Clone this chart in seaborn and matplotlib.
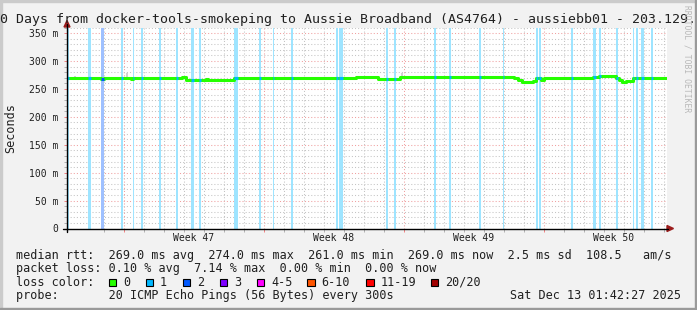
import numpy as np
import pandas as pd
import matplotlib
matplotlib.use("Agg")
import matplotlib.pyplot as plt
import seaborn as sns
from matplotlib.transforms import Affine2D
from matplotlib.patches import Rectangle, Polygon
from matplotlib.lines import Line2D

# ---------------- data ----------------
# median RTT (ms) as a step function: day offset from the window start -> value
step_days = [0.0, 1.70, 1.85, 3.20, 3.30, 5.75, 5.95, 6.95, 7.05, 8.35,
             14.45, 15.55, 16.65, 18.85, 18.95, 20.20, 20.30, 20.80, 20.90,
             22.10, 22.20, 22.35, 22.55, 22.75, 23.30, 23.45, 23.70, 23.85,
             26.30, 26.60, 27.45, 27.60, 27.75, 27.95, 28.30, 30.0]
step_ms = [269.0, 267.0, 269.0, 267.0, 269.0, 272.0, 265.5, 267.5, 265.5, 269.0,
           270.5, 268.5, 271.5, 270.5, 271.5, 270.5, 271.5, 270.5, 271.5,
           270.5, 271.5, 269.5, 266.0, 261.5, 265.0, 269.0, 265.5, 269.0,
           271.0, 273.5, 269.5, 265.5, 261.5, 265.0, 269.0, 269.0]

# packet-loss events: start day, end day, loss class index
loss_start = [0.00, 1.05, 1.70, 2.70, 3.30, 3.70, 4.60, 5.45, 6.20, 6.575,
              8.35, 9.60, 10.30, 11.20, 13.45, 13.60, 15.95, 16.35, 18.35,
              19.10, 20.60, 21.80, 23.45, 23.62, 25.20, 26.30, 26.60, 27.45,
              28.30, 28.45, 28.70, 29.20]
loss_end = [0.12, 1.20, 1.85, 2.80, 3.35, 3.80, 4.70, 5.55, 6.35, 6.675,
            8.55, 9.70, 10.35, 11.30, 13.55, 13.80, 16.05, 16.45, 18.45,
            19.20, 20.70, 21.85, 23.55, 23.72, 25.30, 26.45, 26.70, 27.55,
            28.35, 28.55, 28.85, 29.30]
loss_class = [1, 1, 2, 1, 1, 1, 1, 1, 1, 1,
              1, 1, 1, 1, 1, 1, 1, 1, 1,
              1, 1, 1, 1, 1, 1, 1, 1, 1,
              1, 1, 1, 1]

# faint smoke (rtt spread) visible above the median
smoke_start = [0.35, 2.95, 16.70]
smoke_end = [0.45, 3.05, 16.80]
smoke_top = [274.0, 279.0, 278.0]

week_bounds = [2.85, 9.85, 16.85, 23.85]
week_labels = ["Week 47", "Week 48", "Week 49", "Week 50"]
week_centers = [6.35, 13.35, 20.35, 27.35]

loss_names = ["0", "1", "2", "3", "4-5", "6-10", "11-19", "20/20"]
loss_colors = ["#26ff00", "#00b8ff", "#0059ff", "#7e00ff", "#ff00ff",
               "#ff5500", "#ff0000", "#a10000"]

title = "30 Days from docker-tools-smokeping to Aussie Broadband (AS4764) - aussiebb01 - 203.129."
line_rtt = "median rtt:  269.0 ms avg  274.0 ms max  261.0 ms min  269.0 ms now  2.5 ms sd  108.5   am/s"
line_loss = "packet loss: 0.10 % avg  7.14 % max  0.00 % min  0.00 % now"
line_probe = "probe:       20 ICMP Echo Pings (56 Bytes) every 300s"
stamp = "Sat Dec 13 01:42:27 2025"

# ---------------- style ----------------
sns.set_theme(style="white")
plt.rcParams["font.family"] = ["DejaVu Sans Mono", "DejaVu Sans"]

W, H = 697, 310
fig = plt.figure(figsize=(W / 100, H / 100), dpi=100, facecolor="#f2f2f2")
PX = Affine2D().scale(1 / W, -1 / H).translate(0, 1) + fig.transFigure

# shaded border
fig.patches.append(Rectangle((0, 0), W, 2, transform=PX, color="#cbcbcb", zorder=0))
fig.patches.append(Rectangle((0, 0), 2, H, transform=PX, color="#cbcbcb", zorder=0))
fig.patches.append(Rectangle((W - 2, 0), 2, H, transform=PX, color="#9a9a9a", zorder=0))
fig.patches.append(Rectangle((0, H - 2), W, 2, transform=PX, color="#9a9a9a", zorder=0))

ax_l, ax_r, ax_t, ax_b = 67, 667, 27.5, 228.5
ax = fig.add_axes([ax_l / W, (H - ax_b) / H, (ax_r - ax_l) / W, (ax_b - ax_t) / H])
ax.set_facecolor("white")
ax.set_xlim(0, 30)
ax.set_ylim(0, 360)
for s in ax.spines.values():
    s.set_visible(False)

# grid
ax.set_xticks(week_bounds)
ax.set_xticks(np.arange(1.85, 30, 1.0), minor=True)
ax.set_yticks(np.arange(0, 351, 50))
ax.set_yticks(np.arange(0, 361, 10), minor=True)
ax.set_yticklabels(["0"] + [f"{v} m" for v in range(50, 351, 50)])
ax.set_xticklabels([])
ax.grid(which="minor", color="#c4c4c4", linestyle=(0, (1, 2)), linewidth=0.75)
ax.grid(which="major", color="#f0a0a0", linestyle=(0, (1, 2)), linewidth=0.75)
ax.set_axisbelow(True)
ax.tick_params(axis="both", which="major", length=2, width=0.7, color="#f08080",
               labelsize=7, labelcolor="#202020", pad=4)
ax.tick_params(axis="both", which="minor", length=2, width=0.7, color="#b0b0b0")
ax.tick_params(axis="x", which="both", bottom=True, labelbottom=False)
ax.tick_params(axis="y", which="both", left=True)

def blend(c, a=0.38):
    r, g, b = matplotlib.colors.to_rgb(c)
    return (1 - a + a * r, 1 - a + a * g, 1 - a + a * b)

# loss bars
for s0, s1, k in zip(loss_start, loss_end, loss_class):
    ax.axvspan(s0, s1, color=blend(loss_colors[k]), lw=0, zorder=1)

# smoke
for s0, s1, top in zip(smoke_start, smoke_end, smoke_top):
    v = step_ms[int(np.searchsorted(step_days, s0, side="right")) - 1]
    ax.fill_between([s0, s1], v, top, color="#d2d2d2", lw=0, zorder=2)

# median line
df = pd.DataFrame({"day": step_days, "rtt": step_ms})
sns.lineplot(data=df, x="day", y="rtt", ax=ax, color=loss_colors[0], lw=2.2,
             drawstyle="steps-post", estimator=None, sort=False, zorder=3)
for s0, s1, k in zip(loss_start, loss_end, loss_class):
    v = step_ms[int(np.searchsorted(step_days, s0, side="right")) - 1]
    ax.plot([s0, s1], [v, v], color=loss_colors[k], lw=2.2, solid_capstyle="butt", zorder=4)
ax.set_xlabel("")
ax.set_ylabel("")

# axes lines and arrows
fig.lines.append(Line2D([63, 668], [ax_b, ax_b], transform=PX, color="black", lw=1.0))
fig.lines.append(Line2D([ax_l, ax_l], [231.5, 24], transform=PX, color="black", lw=1.0))
fig.patches.append(Polygon([[667, 225.5], [667, 231.5], [673.5, 228.5]], closed=True,
                           transform=PX, color="#9b1c1c"))
fig.patches.append(Polygon([[64, 27], [70, 27], [67, 20.5]], closed=True,
                           transform=PX, color="#9b1c1c"))

# week labels
for xc, lab in zip(week_centers, week_labels):
    fig.text(ax_l + xc * 20, 238, lab, transform=PX, fontsize=7, color="#202020",
             ha="center", va="center")

# texts
fig.text(-7.7, 19, title, transform=PX, fontsize=9.5, color="#202020", ha="left", va="center")
fig.text(11, 128, "Seconds", transform=PX, fontsize=8.5, color="#202020", rotation=90,
         ha="center", va="center")
fig.text(686.5, 59, "RRDTOOL / TOBI OETIKER", transform=PX, fontsize=5.8, color="#b8b8b8",
         rotation=270, ha="center", va="center")

fs = 8.5
fig.text(16, 255, line_rtt, transform=PX, fontsize=fs, color="#202020", ha="left", va="center")
fig.text(16, 268.5, line_loss, transform=PX, fontsize=fs, color="#202020", ha="left", va="center")
fig.text(16, 282, "loss color:", transform=PX, fontsize=fs, color="#202020", ha="left", va="center")
box_x = [108.7, 145.7, 182.7, 219.5, 256.7, 307.0, 366.0, 430.7]
for bx, name, col in zip(box_x, loss_names, loss_colors):
    fig.patches.append(Rectangle((bx, 278.5), 7.5, 7.5, transform=PX, facecolor=col,
                                 edgecolor="black", lw=0.8))
    fig.text(bx + 14.3, 282, name, transform=PX, fontsize=fs, color="#202020",
             ha="left", va="center")
fig.text(16, 295.5, line_probe, transform=PX, fontsize=fs, color="#202020", ha="left", va="center")
fig.text(681, 295.5, stamp, transform=PX, fontsize=fs, color="#202020", ha="right", va="center")

fig.savefig("out.png", dpi=100, facecolor=fig.get_facecolor())
